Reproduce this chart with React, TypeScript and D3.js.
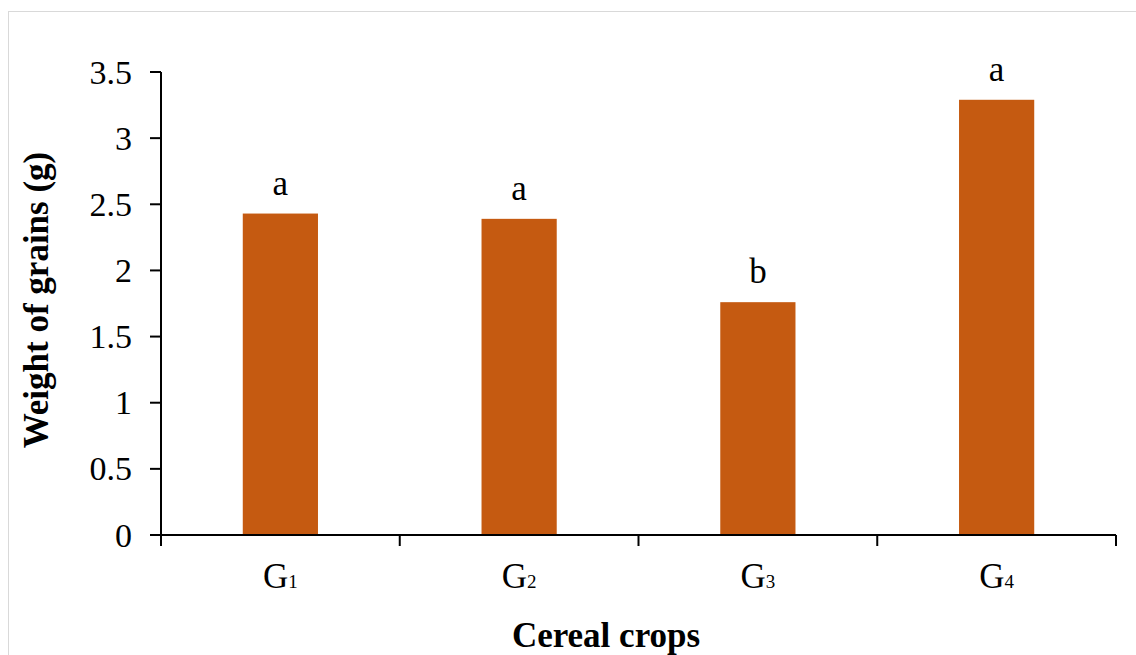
import React from "react";
import * as d3 from "d3";

const categories = ["1", "2", "3", "4"];
const values = [2.43, 2.39, 1.76, 3.29];
const letters = ["a", "a", "b", "a"];
const yTicks = [0, 0.5, 1, 1.5, 2, 2.5, 3, 3.5];

export default function App() {
  const W = 1136, H = 655;
  const left = 161, right = 1116, top = 72, bottom = 535;
  const x = d3.scaleBand<string>().domain(categories).range([left, right]).paddingInner(0).paddingOuter(0);
  const y = d3.scaleLinear().domain([0, 3.5]).range([bottom, top]);
  const bw = x.bandwidth() * 0.315;
  const font = "'Liberation Serif', 'Times New Roman', serif";
  const boundaries = [left, ...categories.map((c) => (x(c) as number) + x.bandwidth())];
  return (
    <svg width={W} height={H} style={{ position: "absolute", left: 0, top: 0, background: "#fff" }} fontFamily={font}>
      <rect x={8.5} y={11.5} width={W + 10} height={H + 10} fill="#fff" stroke="#d9d9d9" strokeWidth={1} />
      {categories.map((c, i) => {
        const cx = (x(c) as number) + x.bandwidth() / 2;
        return (
          <g key={c}>
            <rect x={cx - bw / 2} y={y(values[i])} width={bw} height={bottom - y(values[i])} fill="#C55A11" />
            <text x={cx} y={y(values[i]) - 19} textAnchor="middle" fontSize={35} fill="#000">{letters[i]}</text>
            <text x={cx} y={588} textAnchor="middle" fontSize={35} fill="#000">
              G<tspan fontSize={19}>{c}</tspan>
            </text>
          </g>
        );
      })}
      <line x1={left} x2={left} y1={top} y2={bottom} stroke="#000" strokeWidth={2} />
      <line x1={left} x2={right} y1={bottom} y2={bottom} stroke="#000" strokeWidth={2} />
      {yTicks.map((t) => (
        <g key={t}>
          <line x1={left - 11} x2={left} y1={y(t)} y2={y(t)} stroke="#000" strokeWidth={2} />
          <text x={132} y={y(t) + 11.5} textAnchor="end" fontSize={34} fill="#000">{t}</text>
        </g>
      ))}
      {boundaries.map((b, i) => (
        <line key={i} x1={b} x2={b} y1={bottom} y2={bottom + 11} stroke="#000" strokeWidth={2} />
      ))}
      <text x={606} y={647} textAnchor="middle" fontSize={35} fontWeight="bold" fill="#000">Cereal crops</text>
      <text transform={`translate(48, 300) rotate(-90)`} textAnchor="middle" fontSize={35} fontWeight="bold" fill="#000">Weight of grains (g)</text>
    </svg>
  );
}
